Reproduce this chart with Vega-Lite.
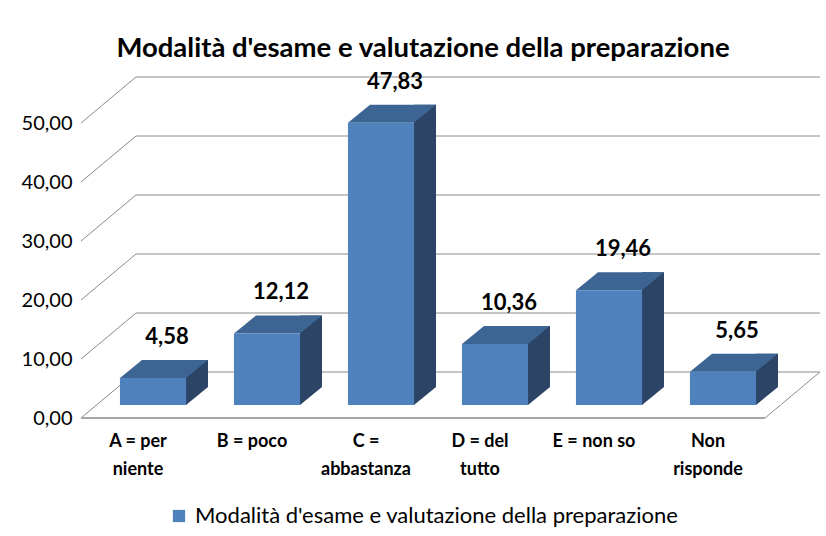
{
  "$schema": "https://vega.github.io/schema/vega-lite/v6.json",
  "width": 684,
  "height": 295,
  "autosize": "none",
  "padding": {"left": 81, "top": 123, "right": 61, "bottom": 118},
  "background": "white",
  "title": {
    "text": "Modalità d'esame e valutazione della preparazione",
    "font": "Lato",
    "fontSize": 27.5,
    "fontWeight": "bold",
    "color": "#000000",
    "anchor": "middle",
    "offset": 8
  },
  "datasets": {
    "bars": [
      {"cat": "A = per niente", "value": 4.58},
      {"cat": "B = poco", "value": 12.12},
      {"cat": "C = abbastanza", "value": 47.83},
      {"cat": "D = del tutto", "value": 10.36},
      {"cat": "E = non so", "value": 19.46},
      {"cat": "Non risponde", "value": 5.65}
    ],
    "grid": [
      {"v": 0}, {"v": 10}, {"v": 20}, {"v": 30}, {"v": 40}, {"v": 50}
    ]
  },
  "layer": [
    {
      "data": {"name": "grid"},
      "mark": {"type": "rule", "color": "#8A8A8A", "strokeWidth": 1, "xOffset": 55, "x2Offset": 55, "yOffset": -46},
      "encoding": {
        "y": {
          "field": "v", "type": "quantitative",
          "scale": {"domain": [0, 50], "nice": false, "zero": true},
          "axis": {
            "title": null, "values": [0, 10, 20, 30, 40, 50], "format": ".2f",
            "domain": false, "ticks": false, "grid": false,
            "labelFont": "Lato", "labelFontSize": 20, "labelColor": "#000000", "labelPadding": 9
          }
        },
        "x": {"value": 0},
        "x2": {"value": "width"}
      }
    },
    {
      "data": {"name": "grid"},
      "mark": {"type": "rule", "color": "#8A8A8A", "strokeWidth": 1, "x2Offset": 55, "y2Offset": -46},
      "encoding": {
        "x": {"value": 0},
        "x2": {"value": 0},
        "y": {"field": "v", "type": "quantitative"},
        "y2": {"field": "v"}
      }
    },
    {
      "data": {"name": "grid"},
      "transform": [{"filter": "datum.v == 0"}],
      "mark": {"type": "rule", "color": "#8A8A8A", "strokeWidth": 1, "x2Offset": 55, "y2Offset": -46},
      "encoding": {
        "x": {"value": "width"},
        "x2": {"value": "width"},
        "y": {"field": "v", "type": "quantitative"},
        "y2": {"field": "v"}
      }
    },
    {
      "data": {"name": "grid"},
      "transform": [{"filter": "datum.v == 0"}],
      "mark": {"type": "rule", "color": "#A6A6A6", "strokeWidth": 2},
      "encoding": {
        "y": {"field": "v", "type": "quantitative"},
        "x": {"value": 0},
        "x2": {"value": "width"}
      }
    },
    {
      "data": {"name": "bars"},
      "mark": {"type": "bar", "width": 22, "color": "#2C4465", "xOffset": 59, "yOffset": -31, "y2Offset": -13},
      "encoding": {
        "x": {"field": "cat", "type": "nominal", "sort": null},
        "y": {"field": "value", "type": "quantitative"},
        "y2": {"datum": 0}
      }
    },
    {
      "data": {"name": "bars"},
      "mark": {"type": "point", "filled": true, "opacity": 1, "color": "#FFFFFF", "strokeWidth": 0, "size": 484, "shape": "M3,0L5.3,0L5.3,-1.9L5,-1.636Z", "xOffset": 15, "yOffset": -13},
      "encoding": {
        "x": {"field": "cat", "type": "nominal", "sort": null},
        "y": {"datum": 0}
      }
    },
    {
      "data": {"name": "bars"},
      "mark": {"type": "point", "filled": true, "opacity": 1, "color": "#3D6594", "strokeWidth": 0, "size": 484, "shape": "M-3,0L3,0L5,-1.636L-1,-1.636Z", "xOffset": 15, "yOffset": -13},
      "encoding": {
        "x": {"field": "cat", "type": "nominal", "sort": null},
        "y": {"field": "value", "type": "quantitative"}
      }
    },
    {
      "data": {"name": "bars"},
      "mark": {"type": "bar", "xOffset": 15, "yOffset": -13, "y2Offset": -13},
      "encoding": {
        "x": {
          "field": "cat", "type": "nominal", "sort": null,
          "scale": {"paddingInner": 0.42, "paddingOuter": 0.21},
          "axis": {
            "title": null, "domain": false, "ticks": false, "labelAngle": 0, "labelAlign": "center",
            "labelFont": "Lato", "labelFontSize": 18, "labelFontWeight": "bold", "labelColor": "#000000",
            "labelPadding": 23, "labelLineHeight": 28, "labelLimit": 0,
            "labelExpr": "datum.label == 'A = per niente' ? ['A = per', 'niente'] : datum.label == 'C = abbastanza' ? ['C =', 'abbastanza'] : datum.label == 'D = del tutto' ? ['D = del', 'tutto'] : datum.label == 'Non risponde' ? ['Non', 'risponde'] : datum.label"
          }
        },
        "y": {"field": "value", "type": "quantitative"},
        "y2": {"datum": 0},
        "color": {
          "datum": "Modalità d'esame e valutazione della preparazione",
          "scale": {"range": ["#4F81BD"]},
          "legend": {
            "title": null, "orient": "bottom", "offset": 27,
            "symbolType": "square", "symbolSize": 150, "symbolStrokeWidth": 0,
            "labelFont": "Lato", "labelFontSize": 22, "labelColor": "#000000", "labelLimit": 0, "labelOffset": 5
          }
        }
      }
    },
    {
      "data": {"name": "bars"},
      "mark": {"type": "text", "font": "Lato", "fontSize": 22, "fontWeight": "bold", "color": "#000000", "xOffset": 29, "yOffset": -47, "baseline": "alphabetic", "align": "center"},
      "encoding": {
        "x": {"field": "cat", "type": "nominal", "sort": null},
        "y": {"field": "value", "type": "quantitative"},
        "text": {"field": "value", "type": "quantitative", "format": ".2f"}
      }
    }
  ],
  "config": {
    "locale": {"number": {"decimal": ",", "thousands": ".", "grouping": [3], "currency": ["", " €"]}},
    "view": {"stroke": null},
    "legend": {"layout": {"bottom": {"anchor": "middle"}}}
  }
}
